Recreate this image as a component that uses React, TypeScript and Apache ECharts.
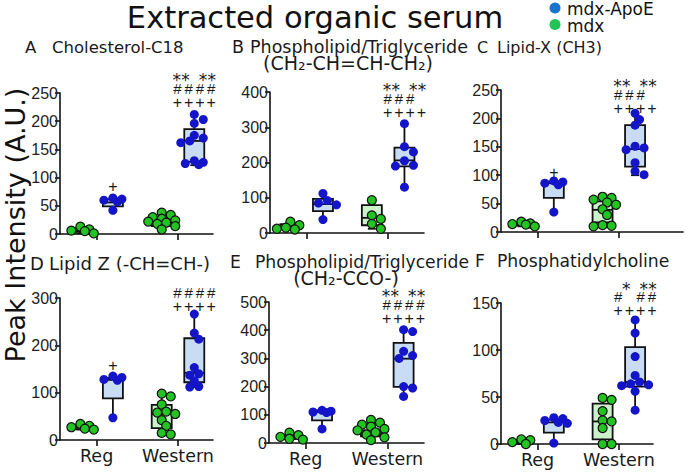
import React, { useEffect, useRef } from 'react';
import * as echarts from 'echarts';

// ---------- data ----------
const groupLabels = ['Reg', 'Western'];
const seriesNames = ['mdx-ApoE', 'mdx'];
const panelLetters = ['A', 'B', 'C', 'D', 'E', 'F'];
const panelTitles = ['Cholesterol-C18', 'Phospholipid/Triglyceride', 'Lipid-X (CH3)', 'Lipid Z (-CH=CH-)', 'Phospholipid/Triglyceride', 'Phosphatidylcholine'];
const panelSubtitles = ['', '(CH₂-CH=CH-CH₂)', '', '', '(CH₂-CCO-)', ''];
const yMax = [250, 400, 250, 300, 500, 150];
const yInterval = [50, 100, 50, 100, 100, 50];

// individual points
const mdxReg = [
  [13, 8, 6, 5, 1],
  [32, 22, 15, 12, 10],
  [18, 15, 14, 13, 10],
  [34, 30, 27, 24, 22],
  [37, 28, 22, 15, 12],
  [5, 4, 2, 0],
];
const apoReg = [
  [64, 62, 60, 57, 42],
  [112, 92, 85, 80, 38],
  [90, 88, 86, 83, 35],
  [135, 132, 128, 126, 47],
  [116, 113, 110, 108, 50],
  [28, 27, 25, 23, 22, 1],
];
const mdxWestern = [
  [38, 34, 30, 27, 24, 22, 20, 18, 14, 8],
  [93, 50, 40, 26, 12],
  [62, 60, 57, 52, 48, 40, 30, 12, 11, 10],
  [98, 92, 75, 60, 58, 55, 42, 30, 15, 12],
  [82, 72, 65, 58, 50, 45, 38, 30, 20, 10],
  [49, 47, 35, 25, 24, 17, 0, 0],
];
const apoWestern = [
  [212, 203, 196, 175, 170, 165, 162, 130, 127, 125, 123],
  [310, 245, 230, 205, 192, 190, 130],
  [209, 198, 188, 151, 148, 145, 122, 107, 101],
  [266, 226, 213, 153, 140, 137, 125, 113, 112],
  [402, 395, 325, 310, 300, 200, 195, 165],
  [132, 118, 93, 73, 66, 64, 63, 62, 56, 36],
];

// box statistics [min, q1, median, q3, max]
const mdxRegBox = [
  [1, 4, 6, 10, 13],
  [10, 12, 15, 25, 32],
  [10, 12, 14, 16, 18],
  [22, 23, 26, 31, 34],
  [10, 14, 22, 30, 38],
  [0, 0.5, 2, 4, 5],
];
const apoRegBox = [
  [40, 49, 56, 62, 64],
  [38, 62, 82, 97, 112],
  [34, 60, 86, 89, 90],
  [47, 88, 127, 131, 135],
  [50, 80, 110, 116, 117],
  [1, 12, 23, 26, 28],
];
const mdxWesternBox = [
  [7, 14, 22, 30, 38],
  [12, 22, 43, 79, 93],
  [10, 17, 39, 54, 62],
  [12, 25, 55, 74, 98],
  [10, 24, 45, 66, 83],
  [0, 5, 24, 43, 50],
];
const apoWesternBox = [
  [122, 128, 165, 186, 212],
  [129, 189, 206, 242, 310],
  [100, 115, 146, 188, 209],
  [112, 122, 142, 215, 266],
  [163, 199, 299, 355, 402],
  [36, 61, 66, 103, 132],
];

// significance marks
const starsLine = ['** **', '** **', '** **', '', '** **', ' * **'];
const hashLine = ['####', '### ', '### ', '####', '####', '# ##'];
const plusLine = ['++++', '++++', '++++', '++++', '++++', '++++'];
const plusLineAt = [234, 342, 218, 282, 442, 142];
const regMark = ['+', '', '+', '+', '', ''];
const regMarkAt = [84, 0, 104, 157, 0, 0];

// ---------- layout ----------
const X_MIN = 0.55;
const POS = { mdxReg: 0.8, apoReg: 1.2, mdxW: 1.8, apoW: 2.2 };
const GRIDS = [
  { left: 60, top: 93, width: 153, height: 141, xMax: 2.43 },
  { left: 270, top: 92, width: 154, height: 141, xMax: 2.44 },
  { left: 501, top: 90, width: 182, height: 142, xMax: 2.79 },
  { left: 60, top: 298, width: 153, height: 142, xMax: 2.43 },
  { left: 269, top: 302, width: 155, height: 141, xMax: 2.45 },
  { left: 501, top: 303, width: 152, height: 141, xMax: 2.42 },
];
const TITLE_POS = [
  { lx: 25, tx: 52, y: 47, sx: 0, sy: 0, fs: 16.5, sfs: 0 },
  { lx: 232, tx: 250, y: 47, sx: 348, sy: 63, fs: 17.5, sfs: 19 },
  { lx: 477, tx: 497, y: 47, sx: 0, sy: 0, fs: 16, sfs: 0 },
  { lx: 30, tx: 49, y: 263, sx: 0, sy: 0, fs: 18, sfs: 0 },
  { lx: 230, tx: 255, y: 262, sx: 346, sy: 278, fs: 17.2, sfs: 19 },
  { lx: 475, tx: 497, y: 261, sx: 0, sy: 0, fs: 17.2, sfs: 0 },
];

const APO_POINT = '#1414c8';
const MDX_POINT = '#22c422';
const APO_FILL = '#c8ddf5';
const MDX_FILL = '#ccf2cc';
const LEGEND_APO = '#1a73d0';
const LEGEND_MDX = '#22c455';
const INK = '#111';
const DIAM = 9;

function swarm(values: number[], center: number, pxX: number, pxY: number) {
  const placed: { x: number; y: number }[] = [];
  const out: number[][] = [];
  const ks = [0, 1, -1, 2, -2, 3, -3];
  values.forEach((v) => {
    const py = v * pxY;
    let best = 0;
    let bestD = -1;
    for (const k of ks) {
      const px = k * DIAM * 0.5;
      const d = placed.reduce((m, p) => Math.min(m, Math.hypot(p.x - px, p.y - py)), Infinity);
      if (d >= DIAM * 0.8) { best = px; bestD = d; break; }
      if (d > bestD) { bestD = d; best = px; }
    }
    placed.push({ x: best, y: py });
    out.push([center + best / pxX, v]);
  });
  return out;
}

function charLine(str: string, cx: number, y: number, slot: number, font: any) {
  const els: any[] = [];
  const n = str.length;
  for (let k = 0; k < n; k++) {
    const ch = str[k];
    if (ch === ' ') continue;
    els.push({
      type: 'text',
      style: {
        text: ch, x: cx + (k - (n - 1) / 2) * slot, y,
        fill: '#1a1a1a', textAlign: 'center', textVerticalAlign: 'middle', ...font,
      },
    });
  }
  return els;
}

function buildOption() {
  const grid: any[] = [];
  const xAxis: any[] = [];
  const yAxis: any[] = [];
  const series: any[] = [];
  const graphic: any[] = [];

  GRIDS.forEach((g, i) => {
    grid.push({ left: g.left, top: g.top, width: g.width, height: g.height });
    const bottomRow = i >= 3;
    xAxis.push({
      type: 'value', gridIndex: i, min: X_MIN, max: g.xMax,
      splitLine: { show: false },
      axisLine: { show: true, onZero: false, lineStyle: { color: INK, width: 1.6 } },
      axisTick: { show: true, customValues: [1, 2], length: 6, lineStyle: { color: INK, width: 1.6 } },
      axisLabel: {
        show: bottomRow, customValues: [1, 2], margin: 7,
        formatter: (v: number) => groupLabels[Math.round(v) - 1] ?? '',
        fontFamily: 'DejaVu Sans', fontSize: 17.5, color: '#1a1a1a',
      },
    });
    yAxis.push({
      type: 'value', gridIndex: i, min: 0, max: yMax[i], interval: yInterval[i],
      splitLine: { show: false },
      axisLine: { show: true, onZero: false, lineStyle: { color: INK, width: 1.6 } },
      axisTick: { show: true, length: 5, lineStyle: { color: INK, width: 1.6 } },
      axisLabel: { margin: 2, fontFamily: 'Liberation Sans', fontSize: 16, color: '#222' },
    });

    const pxX = g.width / (g.xMax - X_MIN);
    const pxY = g.height / yMax[i];

    // boxes
    series.push({
      type: 'custom', xAxisIndex: i, yAxisIndex: i, z: 2, silent: true,
      encode: { x: 0, y: [1, 2, 3, 4, 5] },
      data: [
        [POS.mdxReg, ...mdxRegBox[i], 0],
        [POS.apoReg, ...apoRegBox[i], 1],
        [POS.mdxW, ...mdxWesternBox[i], 0],
        [POS.apoW, ...apoWesternBox[i], 1],
      ],
      renderItem: (params: any, api: any) => {
        const x = api.value(0);
        const vals = [1, 2, 3, 4, 5].map((k) => api.value(k));
        const fill = api.value(6) === 1 ? APO_FILL : MDX_FILL;
        const pts = vals.map((v) => api.coord([x, v]));
        const cx = pts[0][0];
        const hw = 10;
        const cap = 4;
        const ls = { stroke: INK, lineWidth: 1.8 };
        return {
          type: 'group',
          children: [
            { type: 'line', shape: { x1: cx, y1: pts[4][1], x2: cx, y2: pts[0][1] }, style: ls },
            { type: 'line', shape: { x1: cx - cap, y1: pts[4][1], x2: cx + cap, y2: pts[4][1] }, style: ls },
            { type: 'line', shape: { x1: cx - cap, y1: pts[0][1], x2: cx + cap, y2: pts[0][1] }, style: ls },
            { type: 'rect', shape: { x: cx - hw, y: pts[3][1], width: hw * 2, height: Math.max(pts[1][1] - pts[3][1], 0.5) }, style: { fill, stroke: INK, lineWidth: 1.8 } },
            { type: 'line', shape: { x1: cx - hw, y1: pts[2][1], x2: cx + hw, y2: pts[2][1] }, style: ls },
          ],
        };
      },
    });

    // points
    series.push({
      type: 'scatter', name: seriesNames[1], xAxisIndex: i, yAxisIndex: i, z: 3, silent: true,
      symbolSize: DIAM,
      itemStyle: { color: MDX_POINT, borderColor: '#111', borderWidth: 1.2, opacity: 1 },
      data: [...swarm(mdxReg[i], POS.mdxReg, pxX, pxY), ...swarm(mdxWestern[i], POS.mdxW, pxX, pxY)],
    });
    series.push({
      type: 'scatter', name: seriesNames[0], xAxisIndex: i, yAxisIndex: i, z: 4, silent: true,
      symbolSize: DIAM,
      itemStyle: { color: APO_POINT, opacity: 1 },
      data: [...swarm(apoReg[i], POS.apoReg, pxX, pxY), ...swarm(apoWestern[i], POS.apoW, pxX, pxY)],
    });

    // significance marks
    const marks: any[] = [[POS.apoW, plusLineAt[i], 0]];
    if (regMark[i]) marks.push([POS.apoReg, regMarkAt[i], 1]);
    series.push({
      type: 'custom', xAxisIndex: i, yAxisIndex: i, z: 5, silent: true,
      encode: { x: 0, y: 1 },
      data: marks,
      renderItem: (params: any, api: any) => {
        const p = api.coord([api.value(0), api.value(1)]);
        const plusFont = { fontFamily: 'Liberation Sans', fontSize: 16 };
        const hashFont = { fontFamily: 'Liberation Sans', fontSize: 15 };
        const starFont = { fontFamily: 'DejaVu Sans', fontSize: 17 };
        if (api.value(2) === 1) {
          return { type: 'group', children: charLine(regMark[i], p[0], p[1], 11, plusFont) };
        }
        const children = [
          ...charLine(plusLine[i], p[0], p[1], 11.25, plusFont),
          ...charLine(hashLine[i], p[0], p[1] - 14, 11.25, hashFont),
          ...charLine(starsLine[i], p[0], p[1] - 22, 8.75, starFont),
        ];
        return { type: 'group', children };
      },
    });

    // panel titles
    const t = TITLE_POS[i];
    graphic.push({
      type: 'text', x: t.lx, y: t.y, silent: true,
      style: { text: panelLetters[i], fontFamily: 'DejaVu Sans', fontSize: t.fs, fill: '#1a1a1a', textAlign: 'left', textVerticalAlign: 'middle' },
    });
    graphic.push({
      type: 'text', x: t.tx, y: t.y, silent: true,
      style: { text: panelTitles[i], fontFamily: 'DejaVu Sans', fontSize: t.fs, fill: '#1a1a1a', textAlign: 'left', textVerticalAlign: 'middle' },
    });
    if (panelSubtitles[i]) {
      graphic.push({
        type: 'text', x: t.sx, y: t.sy, silent: true,
        style: { text: panelSubtitles[i], fontFamily: 'DejaVu Sans', fontSize: t.sfs, fill: '#1a1a1a', textAlign: 'center', textVerticalAlign: 'middle' },
      });
    }
  });

  // main title, y label, legend
  graphic.push({
    type: 'text', x: 315, y: 17, silent: true,
    style: { text: 'Extracted organic serum', fontFamily: 'DejaVu Sans', fontSize: 30.5, fill: '#111', textAlign: 'center', textVerticalAlign: 'middle' },
  });
  graphic.push({
    type: 'text', x: 15, y: 225, rotation: Math.PI / 2, silent: true,
    style: { text: 'Peak Intensity (A.U.)', fontFamily: 'DejaVu Sans', fontSize: 27, fill: '#111', textAlign: 'center', textVerticalAlign: 'middle' },
  });
  [LEGEND_APO, LEGEND_MDX].forEach((c, k) => {
    const y = k === 0 ? 8 : 24.5;
    graphic.push({ type: 'circle', shape: { cx: 555, cy: y, r: 5.5 }, style: { fill: c }, silent: true });
    graphic.push({
      type: 'text', x: 567, y: y + 1, silent: true,
      style: { text: seriesNames[k], fontFamily: 'DejaVu Sans', fontSize: 17, fill: '#111', textAlign: 'left', textVerticalAlign: 'middle' },
    });
  });

  return { animation: false, backgroundColor: '#ffffff', grid, xAxis, yAxis, series, graphic };
}

export default function App() {
  const ref = useRef<HTMLDivElement>(null);
  useEffect(() => {
    if (!ref.current) return;
    const chart = echarts.init(ref.current, undefined, { renderer: 'svg', width: 689, height: 472 });
    chart.setOption(buildOption() as any);
    return () => chart.dispose();
  }, []);
  return <div ref={ref} style={{ position: 'fixed', left: 0, top: 0, width: 689, height: 472 }} />;
}
